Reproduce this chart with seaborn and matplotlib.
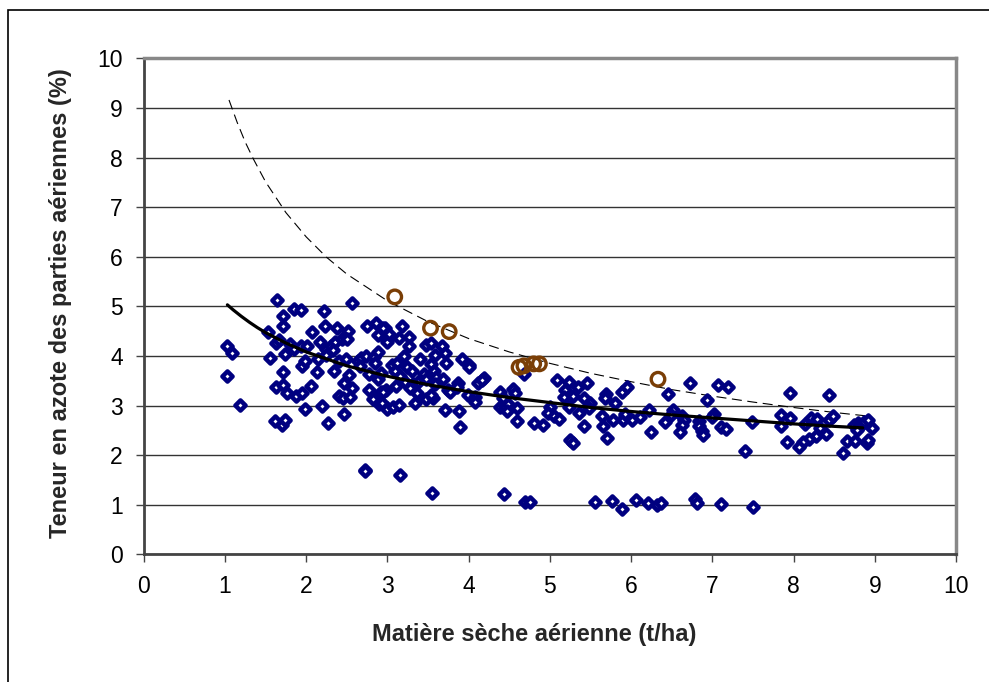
import pandas as pd
import matplotlib
matplotlib.use("Agg")
import matplotlib.pyplot as plt
import matplotlib.patches as mpatches
import seaborn as sns

# ===== DATA =====
ms_obs = [
    1.03, 1.09, 1.03, 1.19, 1.64, 1.53, 1.71, 1.71, 1.63, 1.67, 1.56, 1.74, 1.72, 1.63, 1.71, 1.76,
    1.62, 1.70, 1.74, 1.85, 1.93, 1.80, 1.85, 1.93, 2.01, 1.95, 1.99, 1.87, 1.95, 2.06, 1.99, 2.07,
    2.17, 2.22, 2.23, 2.38, 2.52, 2.24, 2.30, 2.35, 2.44, 2.50, 2.15, 2.24, 2.33, 2.13, 2.34, 2.40,
    2.49, 2.53, 2.47, 2.56, 2.40, 2.45, 2.54, 2.20, 2.47, 2.27, 2.56, 2.72, 2.64, 2.68, 2.66, 2.75,
    2.86, 2.88, 2.97, 2.99, 2.73, 2.83, 2.88, 2.85, 2.77, 2.88, 2.92, 2.77, 2.82, 2.92, 2.98, 2.90,
    2.99,
    2.95, 2.99, 3.02, 3.18, 3.14, 3.27, 3.27, 3.20, 3.05, 3.12, 3.09, 3.24, 3.30, 3.16, 3.22, 3.32,
    3.11, 3.28, 3.38, 2.95, 2.93, 3.00, 3.07, 3.14, 3.34, 3.36, 3.40, 3.48, 3.53, 3.67, 3.71, 3.59,
    3.53, 3.72, 3.45, 3.57, 3.60, 3.48, 3.68, 3.59, 3.48, 3.56, 3.53, 3.75, 3.77, 3.87, 3.86, 3.71,
    3.88, 3.89, 3.92, 4.00, 4.01, 3.99, 4.08, 4.08, 4.12, 4.19, 4.16, 3.15, 4.39, 4.42, 4.39, 4.45,
    4.49, 4.47, 4.55, 4.57, 4.60, 4.60, 4.68, 4.80, 4.92, 5.00, 4.98, 5.05, 5.11, 5.09, 5.23, 5.19,
    5.17, 5.28, 5.34, 5.46, 5.23, 5.25, 5.28, 5.36, 5.42, 5.42, 5.49, 5.48, 5.64, 5.65, 5.70, 5.69,
    5.68, 5.78, 5.80, 5.89, 5.95, 5.93,
    5.90, 5.93, 6.01, 6.11, 6.22, 6.25, 6.42, 6.45, 6.52, 6.49, 6.63, 6.65, 6.63, 6.60, 6.72, 6.83,
    6.84, 6.87, 6.89, 6.93, 7.02, 7.00, 7.07, 7.19, 7.10, 7.17, 7.40, 7.49, 7.84, 7.85, 7.96, 7.96,
    7.92, 8.14, 8.21, 8.29, 8.32, 8.27, 8.19, 8.12, 8.07, 8.40, 8.43, 8.43, 8.49, 8.61, 8.66, 8.76,
    8.74, 8.79, 8.82, 8.86, 8.91, 8.90, 8.92, 8.96, 8.78,
    2.72, 3.55, 4.43, 4.69, 4.76, 5.56, 5.76, 5.89, 6.06, 6.21, 6.32, 6.37, 6.78, 6.81, 7.11, 7.50,
]
n_obs = [
    4.21, 4.05, 3.60, 3.01, 5.13, 4.48, 4.81, 4.60, 4.27, 4.33, 3.96, 4.03, 3.68, 3.37, 3.42, 3.25,
    2.68, 2.60, 2.71, 4.95, 4.93, 4.25, 4.13, 4.19, 4.21, 3.79, 3.89, 3.20, 3.26, 3.40, 2.92, 4.48,
    4.29, 4.90, 4.60, 4.56, 4.50, 4.14, 4.19, 4.29, 4.34, 4.34, 3.93, 4.02, 4.12, 3.68, 3.70, 3.89,
    3.94, 3.62, 3.46, 3.35, 3.19, 3.15, 3.17, 3.00, 2.83, 2.65, 5.07, 1.70, 3.90, 3.96, 3.80, 4.60,
    4.66, 4.43, 4.56, 4.32, 4.00, 3.97, 4.07, 3.85, 3.64, 3.53, 3.65, 3.32, 3.14, 3.27, 3.32, 3.04,
    2.95,
    4.56, 4.29, 4.45, 4.60, 4.36, 4.39, 4.21, 3.99, 3.82, 3.86, 3.69, 3.77, 3.69, 3.59, 3.48, 3.44,
    3.40, 3.35, 3.48, 3.28, 3.05, 2.93, 2.98, 3.01, 3.06, 3.25, 3.94, 4.23, 4.26, 4.21, 4.06, 4.02,
    3.84, 3.86, 3.64, 3.69, 3.57, 3.53, 3.53, 3.44, 3.13, 3.15, 3.22, 3.32, 3.27, 3.45, 3.38, 2.90,
    2.88, 2.56, 3.94, 3.82, 3.77, 3.22, 3.18, 3.08, 3.45, 3.55, 3.51, 1.60, 3.28, 3.15, 2.98, 2.98,
    3.03, 2.88, 3.33, 3.25, 2.95, 2.68, 3.64, 2.64, 2.60, 2.97, 2.85, 2.78, 2.72, 3.52, 3.48, 3.32,
    3.18, 3.19, 3.37, 3.45, 2.98, 2.31, 2.24, 2.85, 2.59, 3.15, 3.05, 2.96, 2.78, 2.59, 2.34, 3.24,
    3.15, 2.70, 3.06, 3.28, 3.37, 2.79,
    2.70, 2.83, 2.70, 2.77, 2.90, 2.46, 2.66, 3.23, 2.90, 2.81, 2.78, 2.71, 2.61, 2.46, 3.46, 2.68,
    2.58, 2.48, 2.41, 3.11, 2.83, 2.77, 3.42, 3.38, 2.56, 2.52, 2.09, 2.66, 2.81, 2.58, 3.26, 2.75,
    2.26, 2.63, 2.75, 2.72, 2.54, 2.39, 2.32, 2.26, 2.17, 2.43, 3.21, 2.70, 2.78, 2.04, 2.29, 2.29,
    2.61, 2.64, 2.58, 2.66, 2.71, 2.24, 2.31, 2.54, 2.50,
    1.69, 1.23, 1.22, 1.06, 1.05, 1.05, 1.07, 0.92, 1.10, 1.03, 1.00, 1.03, 1.12, 1.03, 1.02, 0.95,
]

# points particuliers (cercles marron)
ms_cercles = [3.09, 3.53, 3.76, 4.62, 4.68, 4.80, 4.87, 6.33]
n_cercles = [5.19, 4.56, 4.49, 3.77, 3.80, 3.84, 3.84, 3.53]

# courbe ajustee (trait plein) et courbe critique (tirets)
ms_courbe = [1.03, 1.1, 1.2, 1.3, 1.4, 1.5, 1.75, 2, 2.5, 3, 3.5, 4, 4.5, 5, 5.5, 6, 6.5, 7,
             7.5, 8, 8.5, 8.85]
n_courbe = [5.03, 4.93, 4.80, 4.68, 4.57, 4.47, 4.26, 4.08, 3.80, 3.59, 3.42, 3.28, 3.16, 3.06,
            2.96, 2.88, 2.81, 2.75, 2.69, 2.63, 2.58, 2.55]
ms_tirets = [1.05, 1.15, 1.25, 1.35, 1.5, 1.75, 2, 2.25, 2.5, 3, 3.5, 4, 4.5, 5, 5.5, 6, 6.5, 7,
             7.5, 8, 8.5, 8.9]
n_tirets = [9.16, 8.71, 8.31, 7.97, 7.51, 6.89, 6.40, 5.99, 5.65, 5.11, 4.69, 4.35, 4.08, 3.85,
            3.65, 3.48, 3.32, 3.19, 3.07, 2.96, 2.86, 2.79]

# ===== STYLE =====
sns.set_theme(style="white")
plt.rcParams["font.family"] = ["Liberation Sans", "DejaVu Sans"]

obs = pd.DataFrame({"ms": ms_obs, "n": n_obs})
cercles = pd.DataFrame({"ms": ms_cercles, "n": n_cercles})
courbe = pd.DataFrame({"ms": ms_courbe, "n": n_courbe})
tirets = pd.DataFrame({"ms": ms_tirets, "n": n_tirets})

fig = plt.figure(figsize=(9.89, 6.82), dpi=100)
ax = fig.add_axes([0.1453, 0.1872, 0.8215, 0.7273])

# ===== MARKS =====
sns.lineplot(data=tirets, x="ms", y="n", ax=ax, color="black", lw=0.8,
             linestyle=(0, (9, 5)), sort=False, zorder=2)
sns.scatterplot(data=obs, x="ms", y="n", ax=ax, marker="D", s=27,
                facecolor="white", edgecolor="#000080", linewidth=3.2, zorder=3)
sns.scatterplot(data=cercles, x="ms", y="n", ax=ax, marker="o", s=95,
                facecolor="none", edgecolor="#7a3e06", linewidth=2.4, zorder=4)
sns.lineplot(data=courbe, x="ms", y="n", ax=ax, color="black", lw=2.3,
             sort=False, zorder=5)

# ===== AXES =====
ax.set_xlim(0, 10)
ax.set_ylim(0, 10)
ax.set_xticks(range(0, 11))
ax.set_yticks(range(0, 11))
ax.grid(axis="y", color="#333333", lw=1.0)
ax.grid(axis="x", visible=False)
ax.set_axisbelow(True)

for s in ["left", "bottom"]:
    ax.spines[s].set_color("#444444")
    ax.spines[s].set_linewidth(2)
for s in ["top", "right"]:
    ax.spines[s].set_color("#888888")
    ax.spines[s].set_linewidth(2.5)

ax.tick_params(axis="both", direction="out", length=6, width=1, color="#444444",
               labelsize=16.5, labelcolor="black", pad=9,
               bottom=True, left=True)

ax.set_xlabel("Matière sèche aérienne (t/ha)", fontsize=17, fontweight="bold")
ax.set_ylabel("Teneur en azote des parties aériennes (%)", fontsize=17, fontweight="bold")
ax.xaxis.set_label_coords(0.481, -0.161)
ax.xaxis.label.set_va("center")
ax.yaxis.set_label_coords(-0.103, 0.507)
ax.yaxis.label.set_va("center")

# cadre exterieur
fig.patches.append(mpatches.Rectangle((8 / 989, -0.1), 2, 0.9853 + 0.1,
                                      transform=fig.transFigure, fill=False,
                                      edgecolor="black", lw=1.2))

fig.savefig("out.png", dpi=100)
